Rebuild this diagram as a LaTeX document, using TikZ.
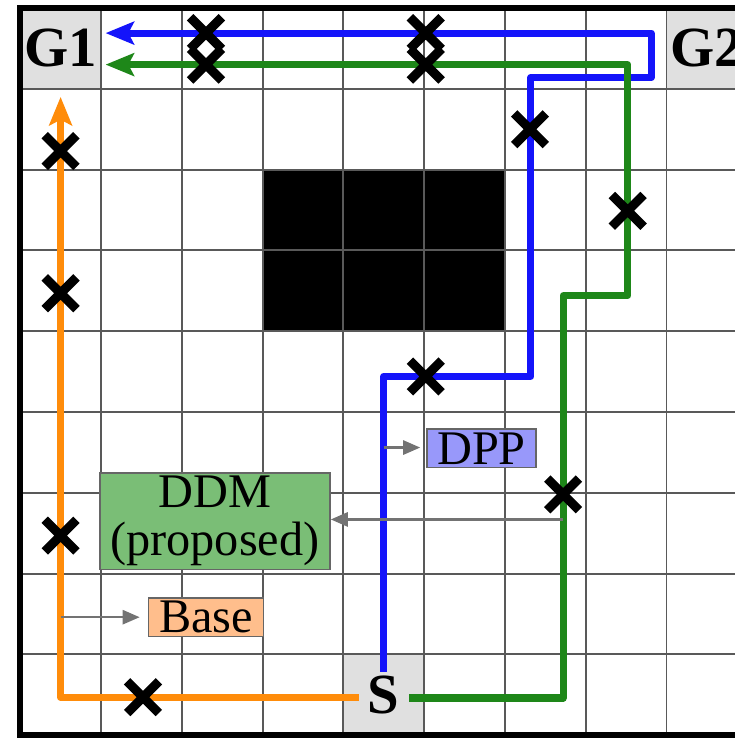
\documentclass[tikz,border=0pt]{standalone}
\usepackage{fontspec}
\setmainfont{Liberation Serif}
\usetikzlibrary{arrows.meta,shapes.misc}
\definecolor{bluepath}{RGB}{20,20,250}
\definecolor{greenpath}{RGB}{30,135,25}
\definecolor{orangepath}{RGB}{255,140,10}
\definecolor{ddmfill}{RGB}{122,190,118}
\definecolor{dppfill}{RGB}{152,152,250}
\definecolor{basefill}{RGB}{255,190,140}
\begin{document}
\begin{tikzpicture}[
  cell/.style={fill=black!12,minimum size=1cm,inner sep=0pt,font=\fontsize{20}{20}\selectfont\bfseries},
  route/.style={line width=2.5pt,line join=round,-{Stealth[length=10pt,width=8pt,inset=2pt]}},
  xmark/.style={cross out,draw=black,line width=3.2pt,minimum size=.28cm,inner sep=0pt},
  lbl/.style={draw=black!60,line width=.6pt,inner xsep=.13cm,inner ysep=.04cm,align=center,font=\fontsize{17}{17}\selectfont},
  note/.style={draw=black!55,line width=.8pt,-{Triangle[length=6pt,width=5pt]}}]
\useasboundingbox (-.25,-.06) rectangle (8.84,9.1);
% start, goals and obstacle
\node[cell] (G1) at (.5,8.5) {G1};
\node[cell] (G2) at (8.5,8.5) {G2};
\node[cell] (S) at (4.5,.5) {S};
\fill (3,5) rectangle (6,7);
\draw[black!65,line width=.7pt] (0,0) grid (9,9);
\draw[line width=2pt] (9,9)--(0,9)--(0,0)--(9,0);
% paths
\draw[route,orangepath] ([shift={(.2,-.03)}]S.west) -| (.5,7.9);
\draw[route,bluepath,shorten >=.05cm] ([yshift=-.22cm]S.north) |- (6.32,4.44) |- (7.81,8.14) |- ([yshift=.19cm]G1.east);
\draw[route,greenpath,shorten >=.05cm] ([shift={(-.19,-.04)}]S.east) -| (6.72,5.44) -| (7.52,8.3) -- ([yshift=-.2cm]G1.east);
\foreach \p [count=\i] in {(1.52,.47),(.5,2.47),(.5,5.47),(.5,7.23),(5.02,4.44),(6.31,7.5),(2.3,8.69),(5.02,8.69),(6.72,2.98),(7.52,6.49),(2.3,8.3),(5.02,8.3)}
  \node[xmark] (x\i) at \p {};
% labels
\node[lbl,fill=ddmfill] (DDM) at (2.41,2.65) {DDM\\(proposed)};
\node[lbl,fill=dppfill] (DPP) at (5.71,3.55) {DPP};
\node[lbl,fill=basefill] (Base) at (2.3,1.46) {Base};
\coordinate (dpp0) at (4.5,3.56);\coordinate (ddm0) at (6.72,2.67);\coordinate (base0) at (.5,1.46);
\draw[note,shorten >=.07cm] (dpp0) -- (DPP.west |- dpp0);
\draw[note] (ddm0) -- (DDM.east |- ddm0);
\draw[note,shorten >=.1cm] (base0) -- (Base.west |- base0);
\end{tikzpicture}
\end{document}
